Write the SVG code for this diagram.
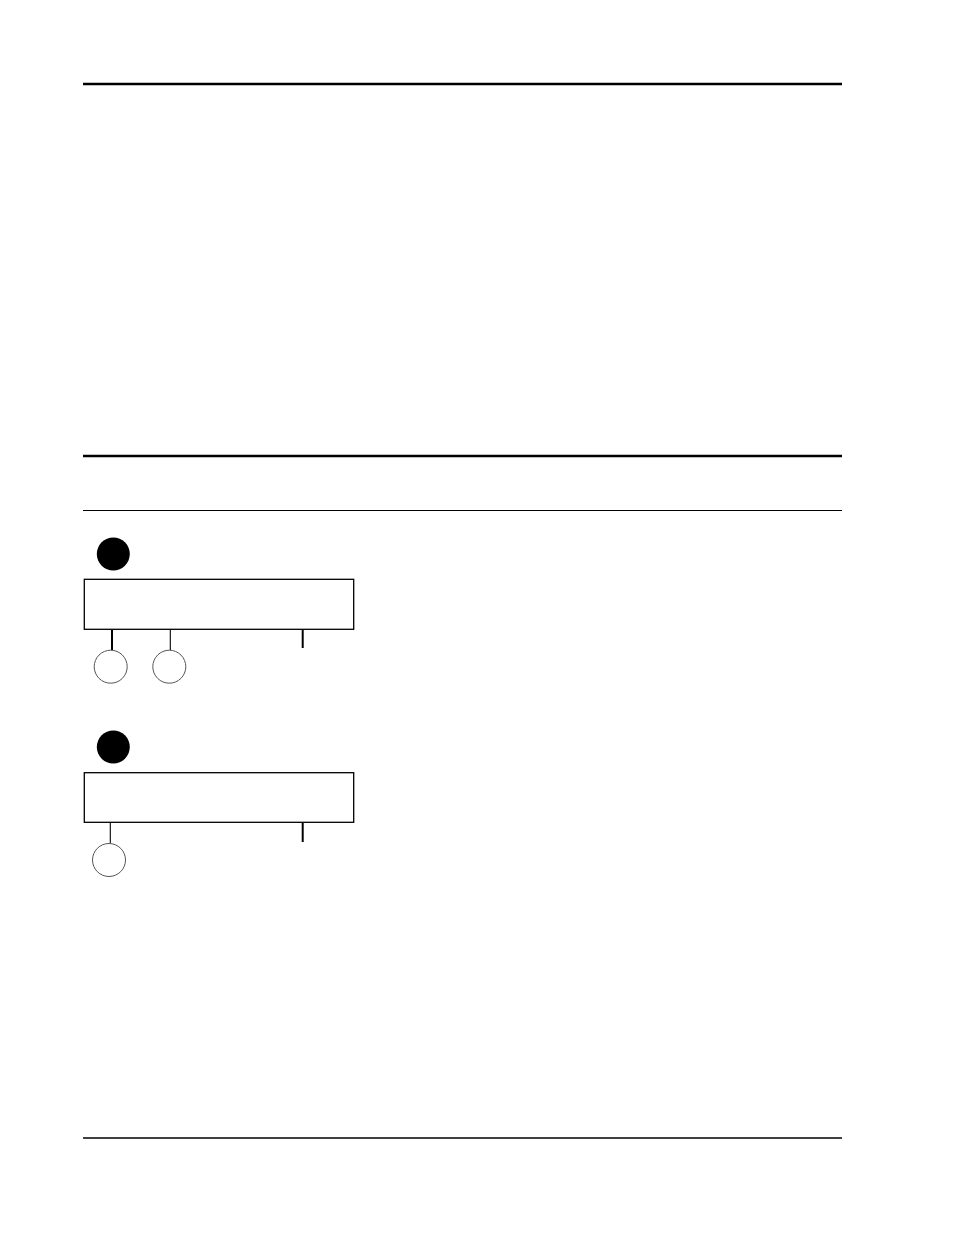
<svg xmlns="http://www.w3.org/2000/svg" width="954" height="1235" viewBox="0 0 954 1235">
<style>
.rule{stroke:#000;fill:none}
.box{fill:#fff;stroke:#000;stroke-width:1.3}
.dot{fill:#000}
.ring{fill:#fff;stroke:#555;stroke-width:1}
.tk{stroke:#000;stroke-width:2}
.tn{stroke:#000;stroke-width:1.1}
</style>
<rect width="954" height="1235" fill="#fff"/>
<g id="rules">
<line class="rule" x1="83" y1="84" x2="842" y2="84" stroke-width="2.5"/>
<line class="rule" x1="83" y1="456" x2="842" y2="456" stroke-width="2.5"/>
<line class="rule" x1="83" y1="510.5" x2="842" y2="510.5" stroke-width="1.2"/>
<line class="rule" x1="83" y1="1138" x2="842" y2="1138" stroke-width="1.4"/>
</g>
<g id="connectors">
<line class="tk" x1="112" y1="630" x2="112" y2="650"/>
<line class="tn" x1="170.3" y1="630" x2="170.3" y2="650"/>
<line class="tk" x1="302.7" y1="630" x2="302.7" y2="648"/>
<line class="tn" x1="110.3" y1="823" x2="110.3" y2="843"/>
<line class="tk" x1="302.7" y1="823" x2="302.7" y2="842"/>
</g>
<g id="marker1"><circle class="dot" cx="113.3" cy="554" r="16.5"/></g>
<g id="box1"><rect class="box" x="84.3" y="579.3" width="269.4" height="50"/></g>
<g id="ring1a"><circle class="ring" cx="110.7" cy="666.7" r="16.5"/></g>
<g id="ring1b"><circle class="ring" cx="169.3" cy="666.7" r="16.5"/></g>
<g id="marker2"><circle class="dot" cx="113.3" cy="747" r="16.5"/></g>
<g id="box2"><rect class="box" x="84.3" y="772.7" width="269.4" height="49.6"/></g>
<g id="ring2"><circle class="ring" cx="109" cy="860" r="16.5"/></g>
</svg>
